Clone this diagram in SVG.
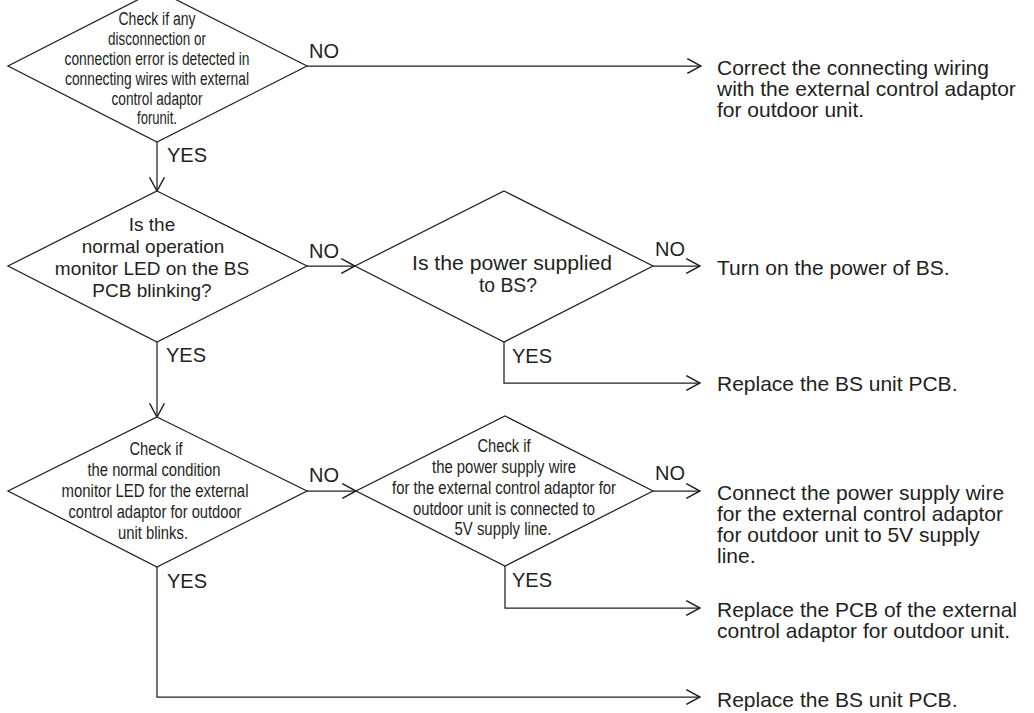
<svg xmlns="http://www.w3.org/2000/svg" width="1034" height="713" viewBox="0 0 1034 713">
<style>
.bg{fill:#fff}
.dia{fill:#fff;stroke:#231f20;stroke-width:1.25}
.con{fill:none;stroke:#231f20;stroke-width:1.25}
text{font-family:"Liberation Sans",Arial,sans-serif;fill:#231f20}
.c18{font-size:18px;text-anchor:middle}
.n19{font-size:19px;text-anchor:middle}
.n20{font-size:20px;text-anchor:middle}
.lbl{font-size:20px}
.res{font-size:21px}
</style>
<defs>
<marker id="ah" markerUnits="userSpaceOnUse" markerWidth="16" markerHeight="16" viewBox="0 0 14 14" refX="13" refY="7" orient="auto">
<path d="M1,0.5 L13,7 L1,13.5" fill="none" stroke="#231f20" stroke-width="1.25"/>
</marker>
</defs>
<rect class="bg" x="0" y="0" width="1034" height="713"/>

<g id="connectors">
<line class="con" x1="307" y1="66" x2="701" y2="66" marker-end="url(#ah)"/>
<line class="con" x1="157" y1="142" x2="157" y2="191" marker-end="url(#ah)"/>
<line class="con" x1="307" y1="266" x2="355" y2="266" marker-end="url(#ah)"/>
<line class="con" x1="653" y1="266" x2="700" y2="266" marker-end="url(#ah)"/>
<polyline class="con" points="504,342 504,383 700,383" marker-end="url(#ah)"/>
<line class="con" x1="157" y1="342" x2="157" y2="417" marker-end="url(#ah)"/>
<line class="con" x1="307" y1="491" x2="356" y2="491" marker-end="url(#ah)"/>
<line class="con" x1="653" y1="491" x2="700" y2="491" marker-end="url(#ah)"/>
<polyline class="con" points="505,566 505,608 700,608" marker-end="url(#ah)"/>
<polyline class="con" points="157,567 157,697 700,697" marker-end="url(#ah)"/>
<text class="lbl" x="309" y="58">NO</text>
<text class="lbl" x="167" y="162">YES</text>
<text class="lbl" x="309" y="258">NO</text>
<text class="lbl" x="655" y="256">NO</text>
<text class="lbl" x="166" y="362">YES</text>
<text class="lbl" x="512" y="363">YES</text>
<text class="lbl" x="309" y="482">NO</text>
<text class="lbl" x="655" y="480">NO</text>
<text class="lbl" x="512" y="587">YES</text>
<text class="lbl" x="167" y="588">YES</text>
</g>

<g id="d1">
<polygon class="dia" points="157,-10 307,66 157,142 8,66"/>
<text class="c18" x="157" y="25" textLength="77" lengthAdjust="spacingAndGlyphs">Check if any</text>
<text class="c18" x="157" y="45" textLength="98" lengthAdjust="spacingAndGlyphs">disconnection or</text>
<text class="c18" x="157" y="65" textLength="185" lengthAdjust="spacingAndGlyphs">connection error is detected in</text>
<text class="c18" x="157" y="85" textLength="184" lengthAdjust="spacingAndGlyphs">connecting wires with external</text>
<text class="c18" x="157" y="105" textLength="91" lengthAdjust="spacingAndGlyphs">control adaptor</text>
<text class="c18" x="157" y="124" textLength="40" lengthAdjust="spacingAndGlyphs">forunit.</text>
</g>

<g id="d2">
<polygon class="dia" points="157,191 307,266 157,342 8,266"/>
<text class="n19" x="152" y="231">Is the</text>
<text class="n19" x="153" y="253">normal operation</text>
<text class="n19" x="152" y="275">monitor LED on the BS</text>
<text class="n19" x="152" y="297">PCB blinking?</text>
</g>

<g id="d5">
<polygon class="dia" points="504,191 653,266 504,342 355,266"/>
<text class="n20" x="512" y="270" textLength="200" lengthAdjust="spacingAndGlyphs">Is the power supplied</text>
<text class="n20" x="508" y="292" textLength="58" lengthAdjust="spacingAndGlyphs">to BS?</text>
</g>

<g id="d3">
<polygon class="dia" points="157,417 307,491 157,567 8,491"/>
<text class="c18" x="156" y="455" textLength="53" lengthAdjust="spacingAndGlyphs">Check if</text>
<text class="c18" x="154" y="476" textLength="133" lengthAdjust="spacingAndGlyphs">the normal condition</text>
<text class="c18" x="155" y="497" textLength="187" lengthAdjust="spacingAndGlyphs">monitor LED for the external</text>
<text class="c18" x="155" y="518" textLength="173" lengthAdjust="spacingAndGlyphs">control adaptor for outdoor</text>
<text class="c18" x="153" y="539" textLength="70" lengthAdjust="spacingAndGlyphs">unit blinks.</text>
</g>

<g id="d4">
<polygon class="dia" points="505,416 653,491 505,566 356,491"/>
<text class="c18" x="504" y="452" textLength="53" lengthAdjust="spacingAndGlyphs">Check if</text>
<text class="c18" x="504" y="473" textLength="144" lengthAdjust="spacingAndGlyphs">the power supply wire</text>
<text class="c18" x="504" y="494" textLength="224" lengthAdjust="spacingAndGlyphs">for the external control adaptor for</text>
<text class="c18" x="504" y="515" textLength="182" lengthAdjust="spacingAndGlyphs">outdoor unit is connected to</text>
<text class="c18" x="503" y="535" textLength="97" lengthAdjust="spacingAndGlyphs">5V supply line.</text>
</g>

<g id="r1">
<text class="res" x="717" y="75">Correct the connecting wiring</text>
<text class="res" x="717" y="96">with the external control adaptor</text>
<text class="res" x="717" y="117">for outdoor unit.</text>
</g>
<g id="r2">
<text class="res" x="717" y="275">Turn on the power of BS.</text>
</g>
<g id="r3">
<text class="res" x="717" y="391">Replace the BS unit PCB.</text>
</g>
<g id="r4">
<text class="res" x="717" y="500">Connect the power supply wire</text>
<text class="res" x="717" y="521">for the external control adaptor</text>
<text class="res" x="717" y="542">for outdoor unit to 5V supply</text>
<text class="res" x="717" y="563">line.</text>
</g>
<g id="r5">
<text class="res" x="717" y="617">Replace the PCB of the external</text>
<text class="res" x="717" y="638">control adaptor for outdoor unit.</text>
</g>
<g id="r6">
<text class="res" x="717" y="707">Replace the BS unit PCB.</text>
</g>
</svg>
